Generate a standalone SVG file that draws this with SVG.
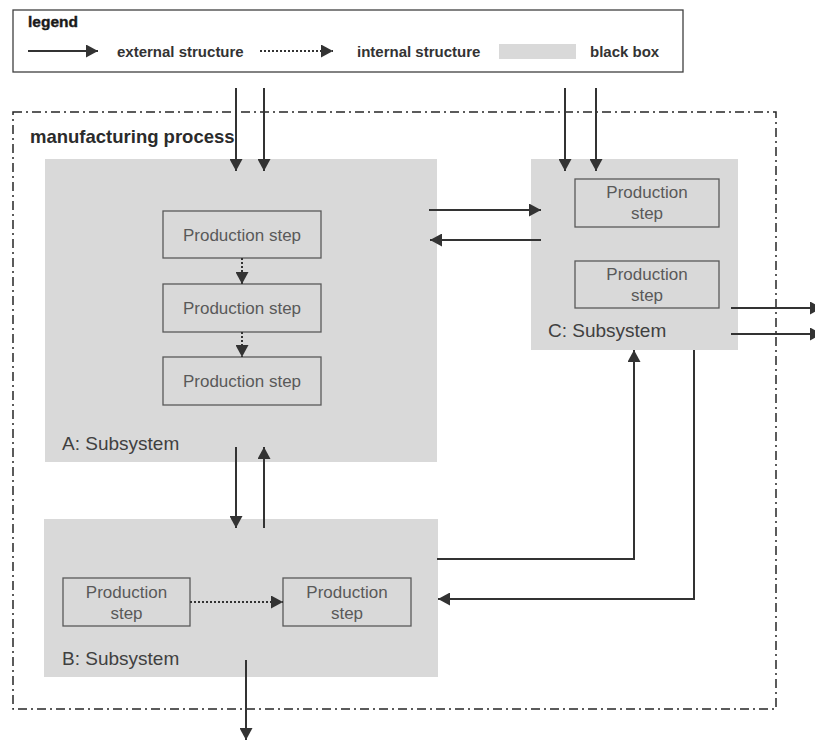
<svg xmlns="http://www.w3.org/2000/svg" width="815" height="740" viewBox="0 0 815 740">
  <style>
    .txt { font-family: "Liberation Sans", Arial, sans-serif; }
    .legend-title { font-size: 15.5px; font-weight: bold; fill: #1a1a1a; stroke: #1a1a1a; stroke-width: 0.4; }
    .legend-label { font-size: 15px; font-weight: bold; fill: #333333; }
    .frame-title { font-size: 18.5px; font-weight: bold; fill: #2b2b2b; }
    .sub { fill: #d9d9d9; }
    .sub-label { font-size: 19px; fill: #404040; }
    .step { fill: #d9d9d9; stroke: #595959; stroke-width: 1.3; }
    .step-label { font-size: 17px; fill: #595959; text-anchor: middle; }
    .ext { fill: none; stroke: #333333; stroke-width: 2; marker-end: url(#head); }
    .int { fill: none; stroke: #333333; stroke-width: 2; stroke-dasharray: 2 2; marker-end: url(#head); }
  </style>
  <defs>
    <marker id="head" markerUnits="userSpaceOnUse" markerWidth="13" markerHeight="13" refX="12" refY="6.5" orient="auto">
      <path d="M0,0 L12,6.5 L0,13 Z" fill="#333333"/>
    </marker>
  </defs>

  <rect width="815" height="740" fill="#ffffff"/>

  <!-- legend -->
  <g id="legend">
    <rect x="13" y="10" width="670" height="62" fill="#ffffff" stroke="#404040" stroke-width="1.3"/>
    <text class="txt legend-title" x="28" y="27">legend</text>
    <line class="ext" x1="28" y1="51" x2="98" y2="51"/>
    <text class="txt legend-label" x="117" y="56.5">external structure</text>
    <line class="int" x1="260" y1="51" x2="333" y2="51"/>
    <text class="txt legend-label" x="357" y="56.5">internal structure</text>
    <rect class="sub" x="499" y="44" width="77" height="15"/>
    <text class="txt legend-label" x="590" y="56.5">black box</text>
  </g>

  <!-- system boundary -->
  <g id="manufacturing-process">
    <rect x="13" y="112" width="763" height="597" fill="none" stroke="#262626" stroke-width="1.5" stroke-dasharray="9 4 2 4"/>
    <text class="txt frame-title" x="30" y="143">manufacturing process</text>
  </g>

  <!-- subsystem A -->
  <g id="subsystem-a">
    <rect class="sub" x="45" y="159" width="392" height="303"/>
    <rect class="step" x="163" y="211" width="158" height="47"/>
    <text class="txt step-label" x="242" y="241">Production step</text>
    <rect class="step" x="163" y="284" width="158" height="48"/>
    <text class="txt step-label" x="242" y="314">Production step</text>
    <rect class="step" x="163" y="357" width="158" height="48"/>
    <text class="txt step-label" x="242" y="387">Production step</text>
    <text class="txt sub-label" x="62" y="450">A: Subsystem</text>
  </g>

  <!-- subsystem B -->
  <g id="subsystem-b">
    <rect class="sub" x="44" y="519" width="394" height="158"/>
    <rect class="step" x="63" y="578" width="127" height="48"/>
    <text class="txt step-label" x="126.5" y="598">Production</text>
    <text class="txt step-label" x="126.5" y="619">step</text>
    <rect class="step" x="283" y="578" width="128" height="48"/>
    <text class="txt step-label" x="347" y="598">Production</text>
    <text class="txt step-label" x="347" y="619">step</text>
    <text class="txt sub-label" x="62" y="665">B: Subsystem</text>
  </g>

  <!-- subsystem C -->
  <g id="subsystem-c">
    <rect class="sub" x="531" y="159" width="207" height="191"/>
    <rect class="step" x="575" y="179" width="144" height="48"/>
    <text class="txt step-label" x="647" y="198">Production</text>
    <text class="txt step-label" x="647" y="219">step</text>
    <rect class="step" x="575" y="261" width="144" height="47"/>
    <text class="txt step-label" x="647" y="280">Production</text>
    <text class="txt step-label" x="647" y="301">step</text>
    <text class="txt sub-label" x="548" y="337">C: Subsystem</text>
  </g>

  <!-- connectors -->
  <g id="connectors">
    <!-- inputs from outside -->
    <line class="ext" x1="236" y1="88" x2="236" y2="171"/>
    <line class="ext" x1="264" y1="88" x2="264" y2="171"/>
    <line class="ext" x1="565" y1="88" x2="565" y2="171"/>
    <line class="ext" x1="596" y1="88" x2="596" y2="171"/>
    <!-- A <-> C -->
    <line class="ext" x1="429" y1="210" x2="541" y2="210"/>
    <line class="ext" x1="541" y1="240" x2="430" y2="240"/>
    <!-- A internal chain -->
    <line class="int" x1="242" y1="258" x2="242" y2="284"/>
    <line class="int" x1="242" y1="332" x2="242" y2="357"/>
    <!-- A <-> B -->
    <line class="ext" x1="236" y1="447" x2="236" y2="528"/>
    <line class="ext" x1="264" y1="528" x2="264" y2="447"/>
    <!-- B internal -->
    <line class="int" x1="190" y1="602" x2="283" y2="602"/>
    <!-- B <-> C -->
    <polyline class="ext" points="437,559 634,559 634,350"/>
    <polyline class="ext" points="694,350 694,599 438,599"/>
    <!-- outputs to outside -->
    <line class="ext" x1="731" y1="308" x2="822" y2="308"/>
    <line class="ext" x1="731" y1="334" x2="822" y2="334"/>
    <line class="ext" x1="246" y1="660" x2="246" y2="740"/>
  </g>
</svg>
